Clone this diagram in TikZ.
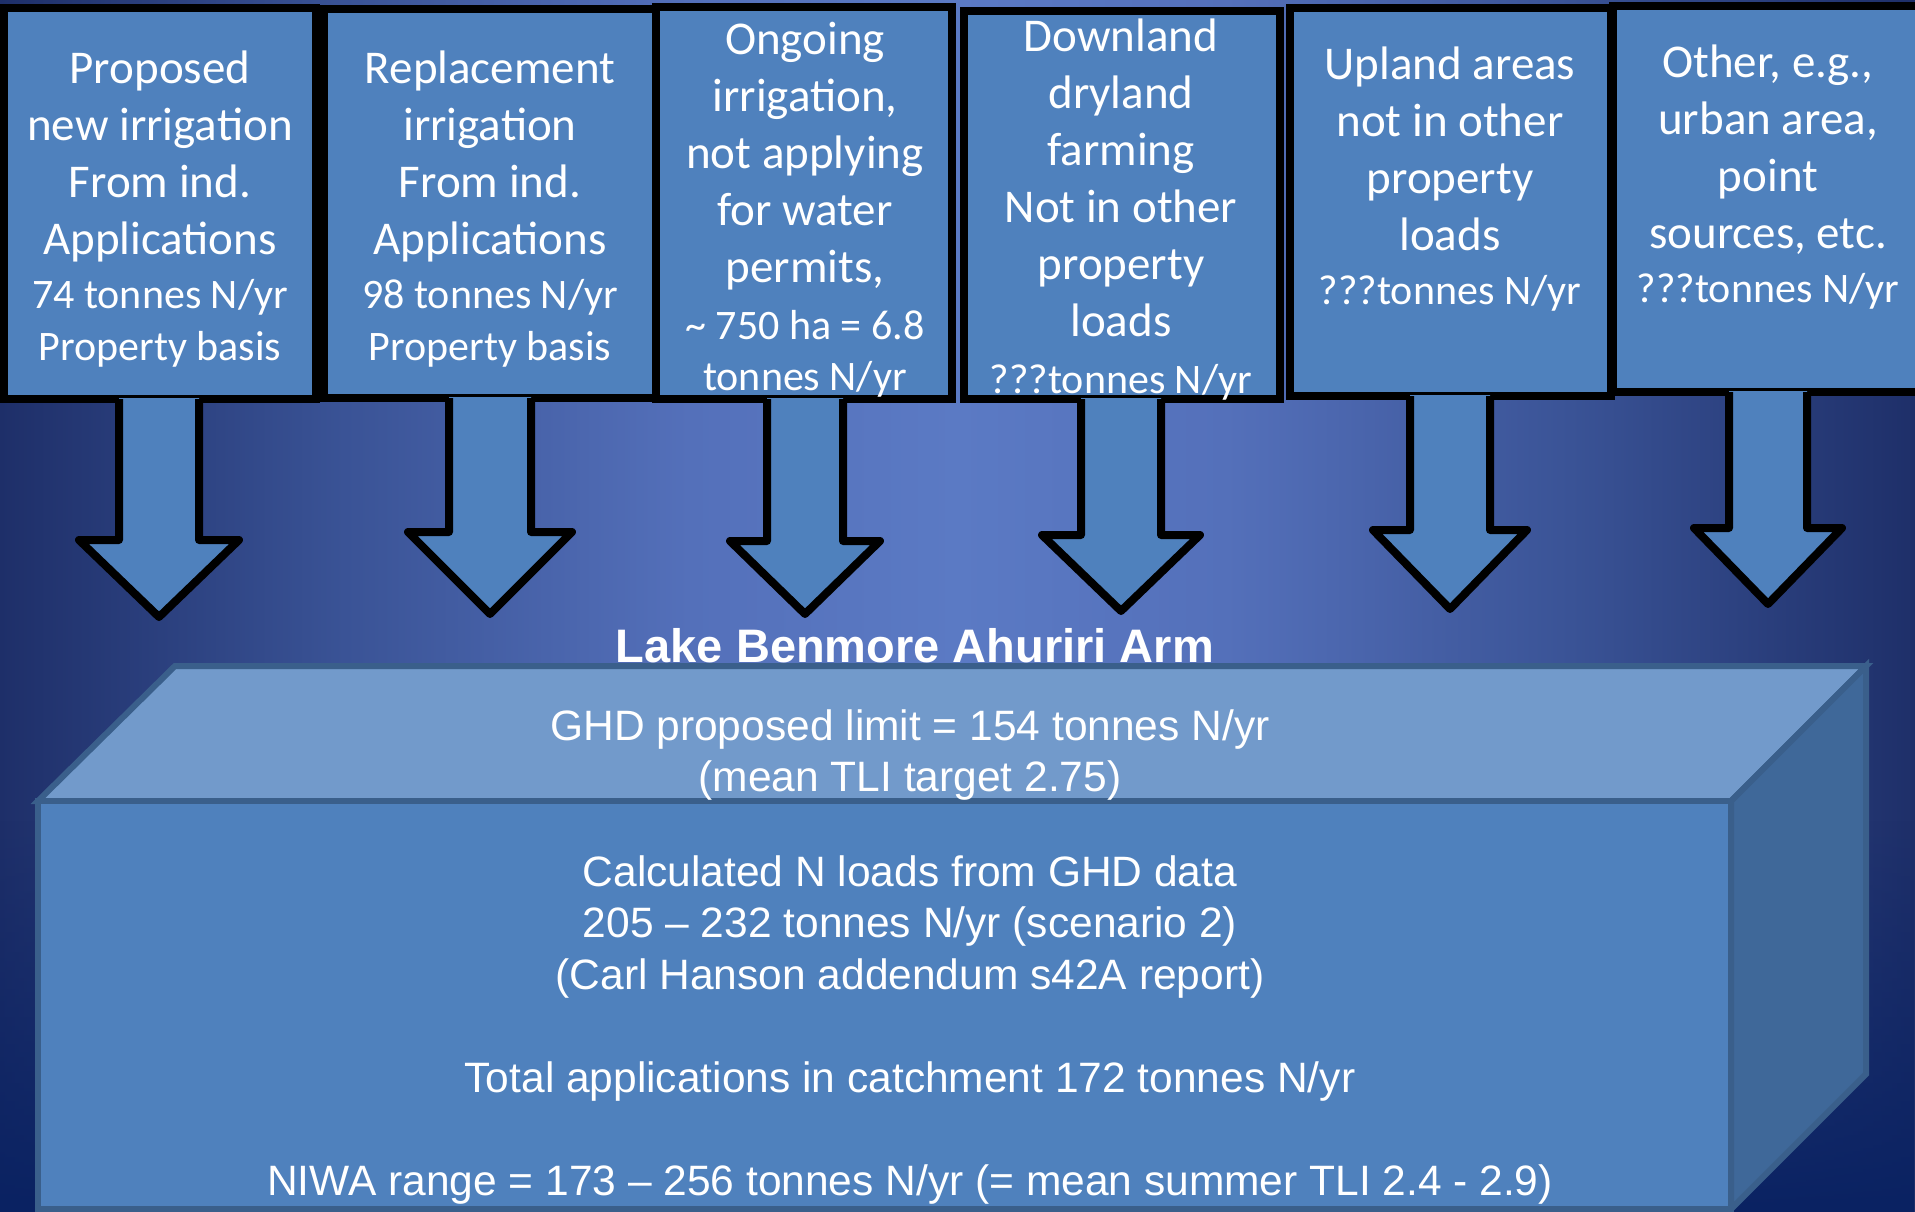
\documentclass[tikz,border=0pt]{standalone}
\usepackage{fontspec}
\setmainfont{Liberation Sans}
\newfontfamily\calibrifont{Carlito}
\usetikzlibrary{calc,fadings}
\definecolor{boxblue}{HTML}{4F81BD}
\definecolor{topface}{HTML}{729ACB}
\definecolor{sideface}{HTML}{3F6899}
\definecolor{edgeblue}{HTML}{3A5F8B}
\definecolor{bgedge}{HTML}{1E2F69}
\definecolor{bgtwo}{HTML}{3A5396}
\definecolor{bgthree}{HTML}{5470BA}
\definecolor{bgmid}{HTML}{5B7AC4}
\definecolor{bgdark}{HTML}{0A2262}
\pgfdeclarehorizontalshading{slidebg}{100bp}{color(0bp)=(bgedge); color(25bp)=(bgedge); color(34bp)=(bgtwo); color(43bp)=(bgthree); color(50bp)=(bgmid); color(57bp)=(bgthree); color(66bp)=(bgtwo); color(75bp)=(bgedge); color(100bp)=(bgedge)}
\tikzfading[name=fadeup, top color=transparent!100, bottom color=transparent!0]
\newcommand\smallline{\fontsize{42}{51}\selectfont}
\tikzset{
  srcbox/.style={draw=black, line width=8pt, fill=boxblue, inner sep=0pt},
  srctext/.style={text=white, align=center, inner sep=0pt, anchor=north,
    font=\calibrifont\fontsize{47}{57}\selectfont},
  lakeface/.style={draw=edgeblue, line width=6pt},
  laketext/.style={text=white, align=center, inner sep=0pt, anchor=north,
    font=\fontsize{42.5}{51.5}\selectfont},
  blkline/.style={draw=black, line width=8pt, line join=round},
}
% #1 box node, #2 tip coordinate, #3 head height, #4 half shaft, #5 half head
\newcommand\blockarrow[5]{%
  \fill[boxblue] let \p1=(#1.south), \p2=(#2) in
    (\x2-#4pt,\y1+5pt) -- (\x2-#4pt,\y2+#3pt) -- (\x2-#5pt,\y2+#3pt) -- (#2)
    -- (\x2+#5pt,\y2+#3pt) -- (\x2+#4pt,\y2+#3pt) -- (\x2+#4pt,\y1+5pt) -- cycle;
  \draw[blkline] let \p1=(#1.south), \p2=(#2) in
    (\x2-#4pt,\y1+4pt) -- (\x2-#4pt,\y2+#3pt) -- (\x2-#5pt,\y2+#3pt) -- (#2)
    -- (\x2+#5pt,\y2+#3pt) -- (\x2+#4pt,\y2+#3pt) -- (\x2+#4pt,\y1+4pt);
}
\begin{document}
\begin{tikzpicture}[x=1pt,y=-1pt]
\useasboundingbox (0,0) rectangle (1915,1212);
% background
\shade[shading=slidebg] (0,0) rectangle (1915,1212);
\fill[bgdark, path fading=fadeup] (0,820) rectangle (1915,1212);

% lake box (3D)
\coordinate (fl) at (38,801);
\coordinate (fr) at (1731,801);
\coordinate (br) at (1866,666);
\coordinate (bl) at (175,666);
\coordinate (fbl) at (38,1209);
\coordinate (fbr) at (1731,1209);
\coordinate (bbr) at (1866,1074);
\filldraw[lakeface, fill=topface] (fl) -- (fr) -- (br) -- (bl) -- cycle;
\filldraw[lakeface, fill=sideface] (fr) -- (br) -- (bbr) -- (fbr) -- cycle;
\filldraw[lakeface, fill=boxblue] (fl) -- (fr) -- (fbr) -- (fbl) -- cycle;

\node[text=white, inner sep=0pt, anchor=base, font=\bfseries\fontsize{47}{56}\selectfont] (title) at (915,662) {Lake Benmore Ahuriri Arm};

\node[laketext] (limit) at (910,709) {GHD proposed limit = 154 tonnes N/yr\\(mean TLI target 2.75)};
\node[laketext] (loads) at (910,855) {Calculated N loads from GHD data\\205 – 232 tonnes N/yr (scenario 2)\\(Carl Hanson addendum s42A report)\\[51.5pt]Total applications in catchment 172 tonnes N/yr\\[51.5pt]NIWA range = 173 – 256 tonnes N/yr (= mean summer TLI 2.4 - 2.9)};

% source boxes
\node[srcbox, minimum width=312pt, minimum height=391pt] (b1) at (160,203.5) {};
\node[srcbox, minimum width=332pt, minimum height=389pt] (b2) at (490,203.5) {};
\node[srcbox, minimum width=296pt, minimum height=392pt] (b3) at (804,203) {};
\node[srcbox, minimum width=316pt, minimum height=388pt] (b4) at (1122,205) {};
\node[srcbox, minimum width=321pt, minimum height=388pt] (b5) at (1450.5,202) {};
\node[srcbox, minimum width=312pt, minimum height=386pt] (b6) at (1769,199) {};

\node[srctext] (t1) at (160,51) {Proposed\\new irrigation\\From ind.\\Applications\\[-3pt]\smallline 74 tonnes N/yr\\[-5pt]\smallline Property basis};
\node[srctext] (t2) at (490,51) {Replacement\\irrigation\\From ind.\\Applications\\[-3pt]\smallline 98 tonnes N/yr\\[-5pt]\smallline Property basis};
\node[srctext] (t3) at (805,22) {Ongoing\\irrigation,\\not applying\\for water\\permits,\\\smallline \textasciitilde{} 750 ha = 6.8\\[-6pt]\smallline tonnes N/yr};
\node[srctext] (t4) at (1121,19) {Downland\\dryland\\farming\\Not in other\\property\\loads\\[0pt]\smallline ???tonnes N/yr};
\node[srctext] (t5) at (1450,47) {Upland areas\\not in other\\property\\loads\\[-3pt]\smallline ???tonnes N/yr};
\node[srctext] (t6) at (1768,45) {Other, e.g.,\\urban area,\\point\\sources, etc.\\[-3pt]\smallline ???tonnes N/yr};

% arrow tips
\coordinate (p1) at (159,617);
\coordinate (p2) at (490,614);
\coordinate (p3) at (805,614);
\coordinate (p4) at (1121,611);
\coordinate (p5) at (1450,609);
\coordinate (p6) at (1768,604);
\blockarrow{b1}{p1}{77}{40}{80}
\blockarrow{b2}{p2}{82}{41}{82}
\blockarrow{b3}{p3}{73}{38}{75}
\blockarrow{b4}{p4}{76}{40}{79}
\blockarrow{b5}{p5}{79}{40}{77}
\blockarrow{b6}{p6}{76}{39}{74}
\end{tikzpicture}
\end{document}
